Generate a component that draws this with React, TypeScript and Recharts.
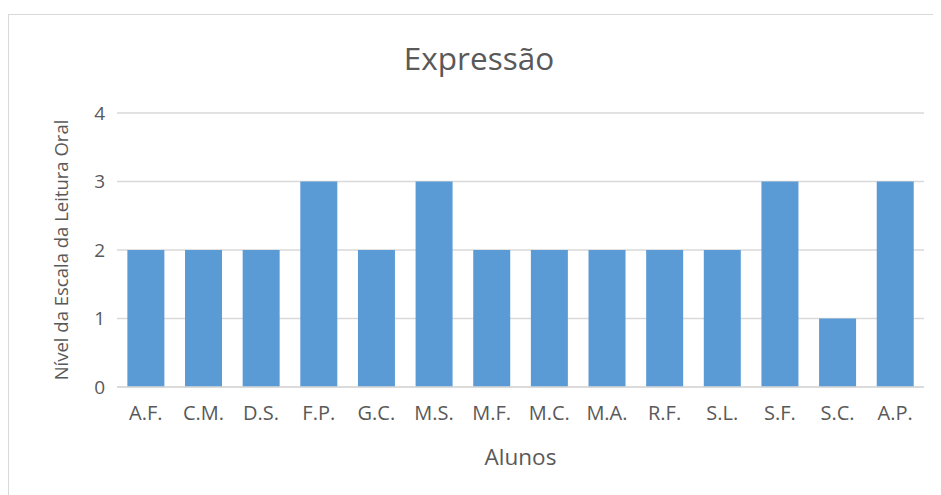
import React from "react";
import { Bar, BarChart, CartesianGrid, Label, XAxis, YAxis } from "recharts";

const alunos = ["A.F.", "C.M.", "D.S.", "F.P.", "G.C.", "M.S.", "M.F.", "M.C.", "M.A.", "R.F.", "S.L.", "S.F.", "S.C.", "A.P."];
const niveis = [2, 2, 2, 3, 2, 3, 2, 2, 2, 2, 2, 3, 1, 3];
const yTicks = [0, 1, 2, 3, 4];

const data = alunos.map((nome, i) => ({ nome, nivel: niveis[i] }));

const FONT = "'Open Sans', 'Noto Sans', sans-serif";
const TEXT = "#595959";

export default function App() {
  return (
    <div
      style={{
        position: "relative",
        marginTop: 6,
        width: 940,
        height: 490,
        border: "1px solid #d9d9d9",
        boxSizing: "border-box",
        background: "#fff",
        fontFamily: FONT,
      }}
    >
      <div
        style={{
          position: "absolute",
          top: 21,
          left: 0,
          width: 940,
          textAlign: "center",
          fontSize: 31.5,
          color: TEXT,
        }}
      >
        Expressão
      </div>
      <BarChart
        width={940}
        height={490}
        data={data}
        margin={{ top: 98, right: 25, bottom: 0, left: 38 }}
        barCategoryGap="18%"
      >
        <CartesianGrid vertical={false} stroke="#d9d9d9" strokeWidth={1.5} />
        <XAxis
          dataKey="nome"
          axisLine={{ stroke: "#d9d9d9", strokeWidth: 1.5 }}
          tickLine={false}
          tickSize={0}
          tickMargin={19}
          height={118}
          interval={0}
          fontSize={20}
          tick={{ fill: TEXT, fontSize: 20, fontFamily: FONT }}
        >
          <Label value="Alunos" position="insideTop" offset={62} fill={TEXT} fontSize={22.5} fontFamily={FONT} />
        </XAxis>
        <YAxis
          domain={[0, 4]}
          ticks={yTicks}
          axisLine={false}
          tickLine={false}
          tickSize={0}
          tickMargin={12}
          width={70}
          fontSize={19}
          tick={{ fill: TEXT, fontSize: 19, fontFamily: FONT }}
        >
          <Label
            value="Nível da Escala da Leitura Oral"
            angle={-90}
            position="insideLeft"
            offset={14}
            style={{ textAnchor: "middle" }}
            fill={TEXT}
            fontSize={18.5}
            fontFamily={FONT}
          />
        </YAxis>
        <Bar dataKey="nivel" fill="#5b9bd5" isAnimationActive={false} />
      </BarChart>
    </div>
  );
}
